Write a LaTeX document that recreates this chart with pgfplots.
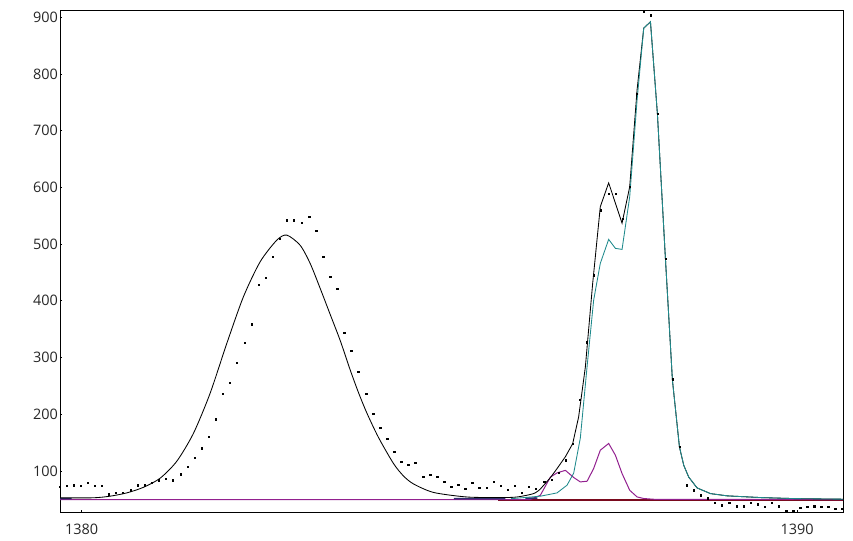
\documentclass[border=0pt]{standalone}
\usepackage{fontspec}
\setmainfont{Open Sans}
\usepackage{pgfplots}
\pgfplotsset{compat=1.18}
\definecolor{tealc}{HTML}{1F8A8C}
\definecolor{purpc}{HTML}{92208F}
\definecolor{redc}{HTML}{7A0A1E}
\definecolor{navyc}{HTML}{303070}
\begin{document}
\begin{tikzpicture}
\begin{axis}[
  scale only axis, width=783bp, height=502bp,
  xmin=1379.697, xmax=1390.64, ymin=27, ymax=912.4,
  xtick={1380,1390}, ytick={100,200,...,900},
  tick align=inside, major tick length=2.5bp, tick pos=left,
  ticklabel style={font=\fontsize{14.5}{17}\selectfont, text=black!85},
  /pgf/number format/assume math mode=true,
  /pgf/number format/1000 sep={},
  axis line style={line width=0.9bp},
  every tick/.style={black, line width=0.8bp},
  xticklabel style={yshift=-8bp},
  yticklabel style={xshift=1.5bp},
  clip=true,
]
% dark red
\addplot[redc, line width=1.3bp] coordinates {(1385.82,48.9)(1390.64,48.9)};
% purple baseline + component
\addplot[purpc, line width=1bp] coordinates {
(1379.697,49.5)(1386.27,49.5)(1386.41,57)(1386.55,89)(1386.643,96.5)(1386.76,101)
(1386.876,88.4)(1386.969,80.6)(1387.063,81.8)(1387.155,104.2)(1387.248,136.5)
(1387.365,148.4)(1387.459,127.7)(1387.552,95.4)(1387.659,65.9)(1387.762,54.1)
(1387.855,51.3)(1387.994,50)(1390.64,49.5)};
% navy pieces
\addplot[navyc, line width=1.5bp, unbounded coords=jump] coordinates {
(1379.697,51.3)(1379.86,51.3)(1379.87,nan)(1385.2,51.3)(1385.92,51.3)(1385.95,nan)(1386.2,51.8)(1386.37,52)};
% black sum, smooth part
\addplot[black, line width=0.85bp, smooth, tension=0.45] coordinates {
(1379.697,52.4)(1380.162,52.6)(1380.396,55.4)(1380.629,61.2)(1380.862,71)
(1381.095,87)(1381.329,117)(1381.561,166)(1381.794,236.6)(1382.028,324.8)
(1382.260,407)(1382.494,468.8)(1382.727,507)(1382.867,515.9)(1383.053,498)
(1383.193,466)(1383.333,422)(1383.473,376)(1383.613,330)(1383.753,278)
(1383.869,238)(1383.986,202)(1384.148,159)(1384.358,113)(1384.498,91)
(1384.638,77)(1384.918,62)(1385.385,54)(1385.850,53)(1386.084,54)(1386.316,60)(1386.41,68)};
% black sum, right part
\addplot[black, line width=0.85bp] coordinates {
(1386.41,68)(1386.55,88)(1386.643,104)(1386.76,125)(1386.862,148)(1386.945,195)
(1387.039,283)(1387.141,430)(1387.248,566)(1387.365,608)(1387.552,537)(1387.659,601)
(1387.762,772)(1387.855,881)(1387.949,892)(1388.046,730)(1388.158,474.8)(1388.256,260)
(1388.354,142.4)(1388.414,110)(1388.484,89)(1388.601,70)(1388.787,60)(1389.021,56)
(1389.487,53)(1389.952,51.2)(1390.64,50.1)};
% teal component
\addplot[tealc, line width=0.85bp] coordinates {
(1386.0,51)(1386.41,55.4)(1386.643,61.2)(1386.783,74.8)(1386.876,96)(1386.969,158)
(1387.063,283.5)(1387.155,401)(1387.248,466)(1387.365,508.4)(1387.459,492.5)
(1387.552,490.7)(1387.659,583.5)(1387.762,754)(1387.855,880.6)(1387.949,892.3)
(1388.046,730)(1388.158,474.8)(1388.256,260)(1388.354,142.4)(1388.414,110)
(1388.484,89)(1388.601,70)(1388.787,60)(1389.021,56)(1389.487,53)(1389.952,51.2)(1390.64,50.1)};
% measured points
\addplot[only marks, mark=square*, mark size=0.65bp, mark options={draw=none, fill=black}] coordinates {
(1379.697,72)(1379.790,73.5)(1379.888,74.8)(1379.986,73.5)(1380.084,79.5)(1380.182,73.5)
(1380.280,73.5)(1380.378,58.9)(1380.476,61.9)(1380.573,61.9)(1380.685,65.9)(1380.783,74.8)
(1380.881,74.8)(1380.979,79.5)(1381.077,83.6)(1381.175,86.6)(1381.273,83.6)(1381.385,94.2)
(1381.483,107.1)(1381.580,122.9)(1381.678,140.1)(1381.776,160.0)(1381.874,191.2)(1381.972,235.9)
(1382.070,255.3)(1382.168,290.6)(1382.280,325.9)(1382.378,358.9)(1382.476,428.2)(1382.573,440.6)
(1382.671,477.6)(1382.769,509.4)(1382.867,542.4)(1382.965,542.4)(1383.077,537.6)(1383.179,548.2)
(1383.277,523.5)(1383.375,477.6)(1383.473,442.4)(1383.571,421.2)(1383.669,343.5)(1383.766,311.8)
(1383.864,274.7)(1383.976,235.9)(1384.074,200.6)(1384.172,175.9)(1384.270,156.5)(1384.368,133.5)
(1384.466,115.9)(1384.564,110.6)(1384.662,114.1)(1384.773,89.4)(1384.871,92.9)(1384.969,89.4)
(1385.067,80.6)(1385.165,71.8)(1385.263,75.3)(1385.361,68.2)(1385.459,78.8)(1385.557,70.0)
(1385.664,70.0)(1385.762,80.6)(1385.860,73.5)(1385.958,66.5)(1386.056,73.5)(1386.154,61.2)
(1386.252,71.8)(1386.350,68.2)(1386.466,80.6)(1386.564,84.1)(1386.662,96.5)(1386.760,118.9)
(1386.858,148.4)(1386.956,225.3)(1387.054,327.1)(1387.152,445.4)(1387.250,560)(1387.362,589.2)
(1387.459,589.2)(1387.557,545)(1387.655,601.2)(1387.753,764.8)(1387.851,911)(1387.949,903.6)
(1388.047,730)(1388.158,474.8)(1388.256,261.8)(1388.354,142.4)(1388.452,74.8)(1388.550,65.9)
(1388.648,57.1)(1388.746,51.8)(1388.843,43.5)(1388.941,39.5)(1389.049,43.5)(1389.151,37.7)
(1389.249,37.7)(1389.347,43.5)(1389.445,41.2)(1389.543,36.5)(1389.641,43.5)(1389.739,37.7)
(1389.846,29.4)(1389.944,29.4)(1390.042,35.4)(1390.140,36.5)(1390.238,37.7)(1390.336,36.5)
(1390.434,36.5)(1390.531,33.6)(1390.629,33.6)};
\end{axis}
\pgfresetboundingbox
\useasboundingbox (-60bp,-28bp) rectangle (793bp,512.3bp);
\end{tikzpicture}
\end{document}
